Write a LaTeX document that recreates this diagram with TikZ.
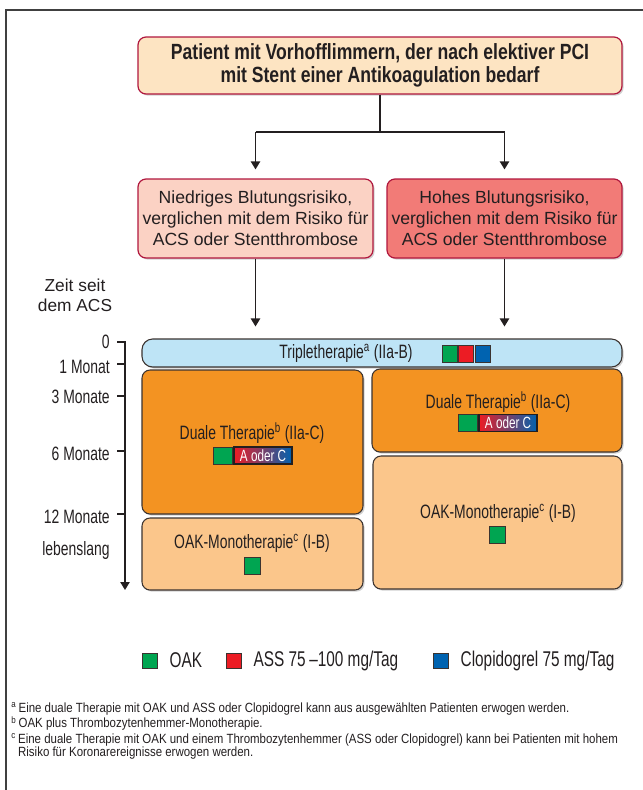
\documentclass[tikz,border=0pt]{standalone}
\usepackage{fontspec}
\setmainfont{Liberation Sans}
\newfontfamily\condfont{Liberation Sans}[FakeStretch=0.72]
\newfontfamily\headfont{Liberation Sans}[FakeStretch=0.8]
\newfontfamily\notefont{Liberation Sans}[FakeStretch=0.86]
\usepackage{tikz}
\usetikzlibrary{arrows.meta,positioning,shadows}
\definecolor{Ink}{HTML}{231F20}
\definecolor{Crimson}{HTML}{B0173D}
\definecolor{Peach}{HTML}{FDE4C2}
\definecolor{Blush}{HTML}{FBD2C4}
\definecolor{Salmon}{HTML}{F27B77}
\definecolor{Sky}{HTML}{BEE4F6}
\definecolor{Orange}{HTML}{F39322}
\definecolor{Apricot}{HTML}{FBC68B}
\definecolor{OakGreen}{HTML}{00A551}
\definecolor{AssRed}{HTML}{EC1C24}
\definecolor{ClopBlue}{HTML}{0063B0}
\definecolor{Edge}{HTML}{3B3330}
\tikzset{
  >={Triangle[length=6pt,width=7pt]},
  boxshadow/.style={drop shadow={shadow xshift=1.2pt,shadow yshift=-1.2pt,opacity=.18,fill=black}},
  decision/.style={rounded corners=6pt,draw=Crimson,line width=.9pt,align=center,text=Ink,boxshadow,inner sep=2pt},
  riskbox/.style={decision,minimum width=176.25pt,minimum height=59.25pt,font=\fontsize{13.2}{15.75}\selectfont},
  therapy/.style={rounded corners=6pt,draw=Edge,line width=.8pt,boxshadow},
  ttl/.style={font=\condfont\fontsize{14.5}{16}\selectfont,text=Ink,inner sep=0pt},
  drug/.style={draw=Edge,line width=.6pt,minimum width=11.25pt,minimum height=12.75pt,inner sep=0pt},
  mixbox/.style={draw=Ink,line width=1pt,left color=AssRed,right color=ClopBlue,text=white,minimum width=43.5pt,minimum height=12.75pt,inner sep=0pt,font=\condfont\fontsize{12.2}{13}\selectfont},
  conn/.style={draw=Ink,line width=1.1pt},
  arr/.style={conn,->},
  timelab/.style={font=\condfont\fontsize{14.5}{16}\selectfont,text=Ink,inner sep=0pt,anchor=east},
  legtext/.style={font=\condfont\fontsize{16}{18}\selectfont,text=Ink,inner sep=0pt},
  foot/.style={font=\notefont\fontsize{10}{9.75}\selectfont,text=Ink,inner sep=0pt,align=left},
  frame/.style={draw=black!75,line width=.8pt}
}
\begin{document}
\begin{tikzpicture}[x=.75pt,y=-.75pt]
  \useasboundingbox (0,0) rectangle (643,790);
  \draw[frame] (643,10) -- (6,10) -- (6,790);

  % decision part
  \node[decision,fill=Peach,minimum width=363pt,minimum height=42.75pt,
        font=\headfont\bfseries\fontsize{16.5}{17.25}\selectfont] (patient) at (380,65.5)
        {Patient mit Vorhofflimmern, der nach elektiver PCI\\mit Stent einer Antikoagulation bedarf};
  \node[riskbox,fill=Blush] (low) at (255.5,218.5) {Niedriges Blutungsrisiko,\\verglichen mit dem Risiko für\\ACS oder Stentthrombose};
  \node[riskbox,fill=Salmon] (high) at (504.5,218.5) {Hohes Blutungsrisiko,\\verglichen mit dem Risiko für\\ACS oder Stentthrombose};
  \coordinate (split) at (380,132);
  \draw[conn] (patient.south) -- (split);
  \draw[conn] (split -| low) -- (split -| high);
  \draw[arr,shorten >=6.75pt] (split -| low) -- (low.north);
  \draw[arr,shorten >=6.75pt] (split -| high) -- (high.north);

  % therapy blocks
  \node[therapy,fill=Sky,rounded corners=8pt,minimum width=360pt,minimum height=21pt] (triple) at (382,353) {};
  \node[therapy,fill=Orange,minimum width=165.75pt,minimum height=108pt] (dualL) at (252.5,442) {};
  \node[therapy,fill=Apricot,minimum width=165.75pt,minimum height=54pt] (monoL) at (252.5,554) {};
  \node[therapy,fill=Orange,minimum width=187.5pt,minimum height=62.25pt] (dualR) at (497,410.5) {};
  \node[therapy,fill=Apricot,minimum width=186.75pt,minimum height=99.75pt] (monoR) at (497.5,522.5) {};
  \draw[arr,shorten >=9pt] (low.south) -- (low.south |- triple.north);
  \draw[arr,shorten >=9pt] (high.south) -- (high.south |- triple.north);

  \node[ttl] (tripleT) at (346,353) {Tripletherapie\textsuperscript{a} (IIa-B)};
  \node[drug,fill=OakGreen] (tripleO) at (449.5,353.5) {};
  \node[drug,fill=AssRed,right=.75pt of tripleO] (tripleA) {};
  \node[drug,fill=ClopBlue,right=.75pt of tripleA] (tripleC) {};

  \node[ttl] (dualLT) at (252,433) {Duale Therapie\textsuperscript{b} (IIa-C)};
  \node[drug,fill=OakGreen,minimum width=14.25pt] (dualLO) at (222.5,455.5) {};
  \node[mixbox,right=.75pt of dualLO] (dualLM) {A oder C};
  \node[ttl] (monoLT) at (252,543) {OAK-Monotherapie\textsuperscript{c} (I-B)};
  \node[drug,fill=OakGreen,minimum width=12pt] (monoLO) at (252,565.5) {};

  \node[ttl] (dualRT) at (498,402) {Duale Therapie\textsuperscript{b} (IIa-C)};
  \node[drug,fill=OakGreen,minimum width=14.25pt] (dualRO) at (467.5,423) {};
  \node[mixbox,right=.75pt of dualRO] (dualRM) {A oder C};
  \node[ttl] (monoRT) at (498,513) {OAK-Monotherapie\textsuperscript{c} (I-B)};
  \node[drug,fill=OakGreen,minimum width=12pt] (monoRO) at (497,534.5) {};

  % time axis
  \node[align=center,text=Ink,font=\fontsize{13}{15}\selectfont] (zeit) at (75,295) {Zeit seit\\dem ACS};
  \draw[arr] (117,342) -- (125,342) -- (125,590);
  \draw[conn] (117,364) -- (125,364);
  \draw[conn] (117,396) -- (125,396);
  \draw[conn] (117,451) -- (125,451);
  \draw[conn] (117,514) -- (125,514);
  \node[timelab] (t0) at (110,342) {0};
  \node[timelab] (t1) at (110,367) {1 Monat};
  \node[timelab] (t3) at (110,397) {3 Monate};
  \node[timelab] (t6) at (110,454) {6 Monate};
  \node[timelab] (t12) at (110,517) {12 Monate};
  \node[timelab] (tlife) at (110,550) {lebenslang};

  % legend
  \node[drug,fill=OakGreen,minimum height=11.25pt] (legO) at (149.5,660.5) {};
  \node[legtext,right=9pt of legO] (legOT) {OAK};
  \node[drug,fill=AssRed,minimum height=11.25pt] (legA) at (233.5,660.5) {};
  \node[legtext,right=9pt of legA] (legAT) {ASS 75\thinspace–100 mg/Tag};
  \node[drug,fill=ClopBlue,minimum height=11.25pt] (legC) at (440.5,660.5) {};
  \node[legtext,right=9pt of legC] (legCT) {Clopidogrel 75 mg/Tag};

  % footnotes
  \node[foot,anchor=north west] (notes) at (11,702) {\textsuperscript{a}\,Eine duale Therapie mit OAK und ASS oder Clopidogrel kann aus ausgewählten Patienten erwogen werden.\\
    \textsuperscript{b}\,OAK plus Thrombozytenhemmer-Monotherapie.\\[2pt]
    \textsuperscript{c}\,Eine duale Therapie mit OAK und einem Thrombozytenhemmer (ASS oder Clopidogrel) kann bei Patienten mit hohem\\
    \phantom{\textsuperscript{c}\,}Risiko für Koronarereignisse erwogen werden.};
\end{tikzpicture}
\end{document}
